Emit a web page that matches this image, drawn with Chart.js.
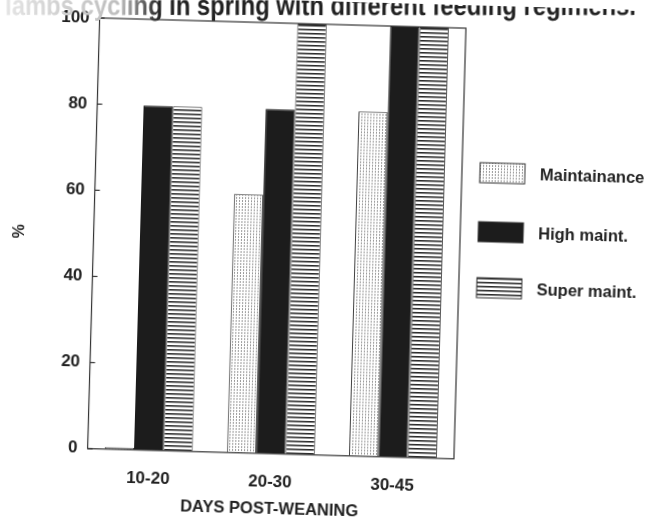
<!DOCTYPE html>
<html>
<head>
<meta charset="utf-8">
<script src="https://cdn.jsdelivr.net/npm/chart.js@4.4.0/dist/chart.umd.min.js"></script>
<style>
  html, body { margin: 0; padding: 0; background: #fff; overflow: hidden; }
  #wrap { width: 650px; height: 519px; transform: rotate(1.6deg); transform-origin: 277px 238px; }
</style>
</head>
<body>
<div id="wrap"><canvas id="barChart" width="650" height="519"></canvas></div>
<script>
var categories = ["10-20", "20-30", "30-45"];
var seriesNames = ["Maintainance", "High maint.", "Super maint."];
var maintainance = [0.5, 60, 80];
var highMaint = [80, 80, 100];
var superMaint = [80, 100, 100];
var yTicks = [0, 20, 40, 60, 80, 100];
var titleText = "of ewe lambs cycling in spring with different feeding regimens.";

var FONT = "'Liberation Sans', Arial, sans-serif";
var INK = "#222";
var ROT = 1.6 * Math.PI / 180;

var ctx = document.getElementById("barChart").getContext("2d");

// fill patterns like the scanned print
function dotPattern() {
  var c = document.createElement("canvas");
  c.width = 3; c.height = 3;
  var g = c.getContext("2d");
  g.fillStyle = "#fff"; g.fillRect(0, 0, 3, 3);
  g.fillStyle = "#9a9a9a"; g.fillRect(1, 0, 1, 2);
  return ctx.createPattern(c, "repeat");
}
function stripePattern() {
  var c = document.createElement("canvas");
  c.width = 4; c.height = 4;
  var g = c.getContext("2d");
  g.fillStyle = "#fff"; g.fillRect(0, 0, 4, 4);
  g.fillStyle = "#2a2a2a"; g.fillRect(0, 0, 4, 1);
  g.fillStyle = "#888"; g.fillRect(0, 1, 4, 1);
  return ctx.createPattern(c, "repeat");
}

var extras = {
  id: "extras",
  afterDraw: function(chart) {
    var c = chart.ctx, a = chart.chartArea, y = chart.scales.y;
    c.save();
    // frame
    c.strokeStyle = "#333"; c.lineWidth = 1.2;
    c.strokeRect(a.left, a.top, a.right - a.left, a.bottom - a.top);
    // inward tick marks
    yTicks.forEach(function(v) {
      var py = y.getPixelForValue(v);
      c.beginPath(); c.moveTo(a.left, py); c.lineTo(a.left + 5, py); c.stroke();
    });
    // legend
    var ys = [167, 226, 282];
    c.font = "bold 16.5px " + FONT;
    c.textBaseline = "middle";
    c.textAlign = "left";
    chart.data.datasets.forEach(function(ds, i) {
      c.fillStyle = ds.backgroundColor;
      c.fillRect(478, ys[i] - 10, 45, 20);
      c.strokeStyle = "#333"; c.lineWidth = 1;
      c.strokeRect(478, ys[i] - 10, 45, 20);
      c.fillStyle = INK;
      c.fillText(ds.label, 538, ys[i] + 1);
    });
    // cut-off title, kept level and narrow, faded on the left like the scan
    c.translate(277, 238); c.rotate(-ROT); c.translate(-277, -238);
    c.translate(636, 15); c.scale(0.85, 1);
    var fade = c.createLinearGradient(-748, 0, -560, 0);
    fade.addColorStop(0, "#e6e6e6");
    fade.addColorStop(0.75, "#bdbdbd");
    fade.addColorStop(1, INK);
    c.fillStyle = fade;
    c.font = "bold 28px " + FONT;
    c.textAlign = "right";
    c.textBaseline = "alphabetic";
    c.fillText(titleText, 0, 0);
    c.restore();
  }
};

var myChart = new Chart(ctx, {
  type: "bar",
  data: {
    labels: categories,
    datasets: [{
      label: seriesNames[0],
      data: maintainance,
      backgroundColor: dotPattern(),
      borderColor: "#333", borderWidth: 1
    }, {
      label: seriesNames[1],
      data: highMaint,
      backgroundColor: "#1c1c1c",
      borderColor: "#1c1c1c", borderWidth: 1
    }, {
      label: seriesNames[2],
      data: superMaint,
      backgroundColor: stripePattern(),
      borderColor: "#333", borderWidth: 1
    }]
  },
  options: {
    responsive: false,
    animation: false,
    devicePixelRatio: 1,
    layout: { padding: { left: 6, right: 190, top: 23, bottom: 0 } },
    plugins: { legend: { display: false }, tooltip: { enabled: false } },
    datasets: { bar: { categoryPercentage: 0.72, barPercentage: 1 } },
    scales: {
      x: {
        grid: { display: false, drawTicks: false },
        border: { display: false },
        ticks: { padding: 18, color: INK, font: { family: FONT, size: 17, weight: "bold" } },
        title: { display: true, text: "DAYS POST-WEANING", color: INK, padding: { top: -11, bottom: 0 },
          font: { family: FONT, size: 16.5, weight: "bold" } }
      },
      y: {
        min: 0, max: 100,
        afterBuildTicks: function(scale) {
          scale.ticks = yTicks.map(function(v) { return { value: v }; });
        },
        grid: { display: false, drawTicks: false },
        border: { display: false },
        ticks: { padding: 10, color: INK, font: { family: FONT, size: 17, weight: "bold" } },
        title: { display: true, text: "%", color: INK, padding: { top: 4, bottom: 16 },
          font: { family: FONT, size: 16, weight: "bold" } }
      }
    }
  },
  plugins: [extras]
});
</script>
</body>
</html>
